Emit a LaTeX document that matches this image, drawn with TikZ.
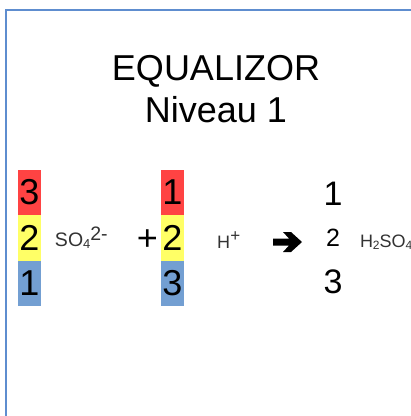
\documentclass[tikz,border=0pt]{standalone}
\usepackage{fontspec}
\setmainfont{Liberation Sans}
\definecolor{cred}{HTML}{FF4343}
\definecolor{cyel}{HTML}{FFFF66}
\definecolor{cblue}{HTML}{739FD2}
\definecolor{frameblue}{HTML}{5E8DCF}
\definecolor{chem}{HTML}{333333}
\newcommand{\bigsz}{\fontsize{36}{36}\selectfont}
\begin{document}
\begin{tikzpicture}[x=1pt,y=-1pt,
  cell/.style={minimum width=23pt,minimum height=45.5pt,inner sep=0pt,outer sep=0pt,font=\bigsz,text=black},
  txt/.style={inner sep=0pt,outer sep=0pt},
  title/.style={txt,anchor=base,font=\bigsz},
  chemtxt/.style={txt,anchor=base west,text=chem},
  frame/.style={draw=frameblue,line width=1.6pt}]
\clip (0,0) rectangle (411,416);
\fill[white] (0,0) rectangle (411,416);
\draw[frame] (6,10) rectangle (440,440);
% title
\node[title] (t1) at (216,80) {EQUALIZOR};
\node[title] (t2) at (216,122) {Niveau 1};
% left column
\node[cell,fill=cred]  (a1) at (29.5,192.5) {3};
\node[cell,fill=cyel]  (a2) at (29.5,238)   {2};
\node[cell,fill=cblue] (a3) at (29.5,283.5) {1};
% second column
\node[cell,fill=cred]  (b1) at (172.5,192.5) {1};
\node[cell,fill=cyel]  (b2) at (172.5,238)   {2};
\node[cell,fill=cblue] (b3) at (172.5,283.5) {3};
% SO4 2-
\node[chemtxt,font=\fontsize{19.5}{19.5}\selectfont] (so4) at (55,246)
  {SO\raisebox{-2pt}{\fontsize{13}{13}\selectfont 4}\raisebox{6pt}{2-}};
% plus
\node[txt,font=\bigsz] (plus) at (147.5,240) {+};
% H+
\node[chemtxt,font=\fontsize{18}{18}\selectfont] (hplus) at (217,248)
  {H\hspace{0.5pt}\raisebox{6.5pt}{\fontsize{17}{17}\selectfont +}};
% arrow
\coordinate (arr) at (273,242);
\fill[black] (arr) ++(0,-3.5) -- ++(16,0) -- ++(-6,-6.5) -- ++(8,0) -- ++(11,10) -- ++(-11,10) -- ++(-8,0) -- ++(6,-6.5) -- ++(-16,0) -- cycle;
% right column
\node[txt,font=\fontsize{34}{34}\selectfont] (c1) at (333,194) {1};
\node[txt,font=\fontsize{25}{25}\selectfont] (c2) at (333,238) {2};
\node[txt,font=\fontsize{34}{34}\selectfont] (c3) at (333,282) {3};
% H2SO4
\node[chemtxt,font=\fontsize{18}{18}\selectfont] (h2so4) at (360,247)
  {H\raisebox{-2pt}{\fontsize{12}{12}\selectfont 2}SO\raisebox{-2pt}{\fontsize{12}{12}\selectfont 4}};
\end{tikzpicture}
\end{document}
